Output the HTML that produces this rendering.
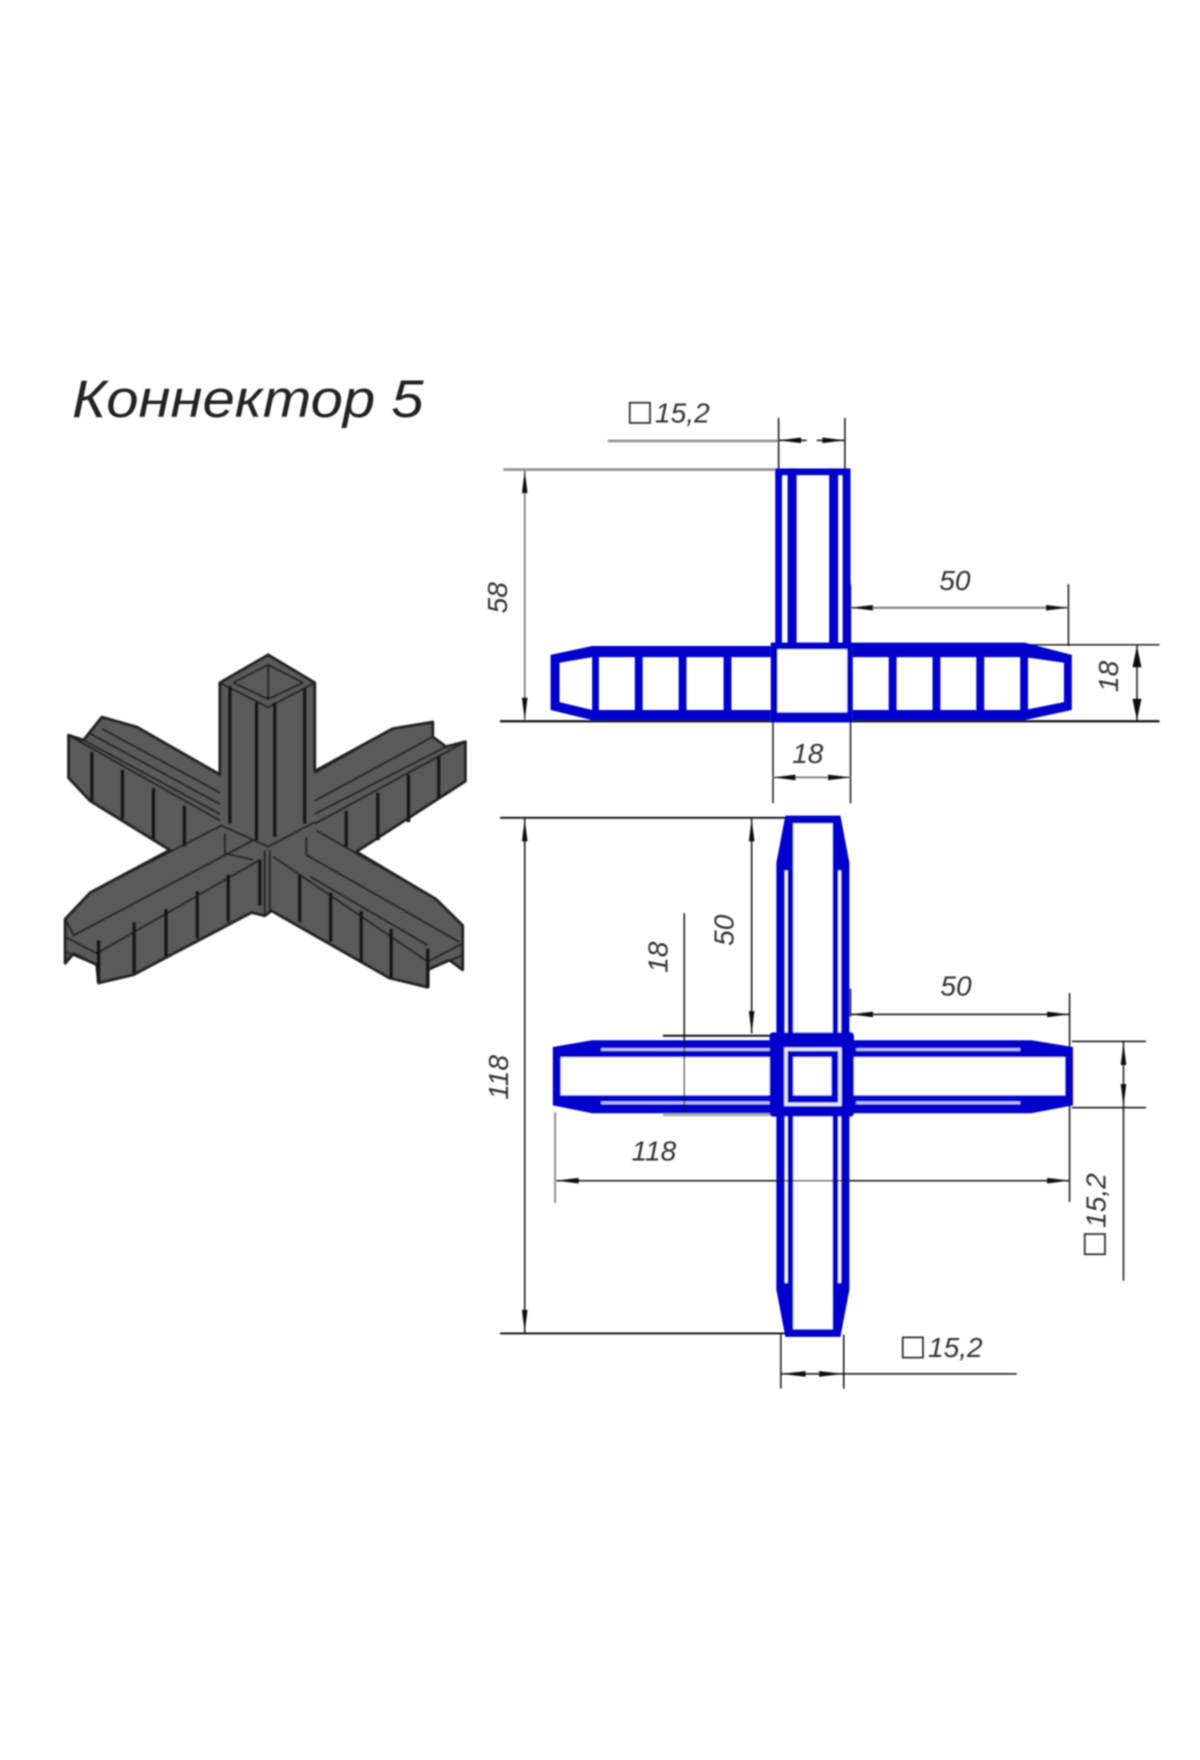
<!DOCTYPE html>
<html><head><meta charset="utf-8"><style>
html,body{margin:0;padding:0;background:#fff}
svg{display:block}
text{font-family:"Liberation Sans","DejaVu Sans",sans-serif;font-style:italic;fill:#333}
</style></head><body>
<svg width="1200" height="1760" viewBox="0 0 1068 1566.7" xmlns="http://www.w3.org/2000/svg">
<defs>
<filter id="b" x="-5%" y="-5%" width="110%" height="110%"><feGaussianBlur stdDeviation="0.7"/></filter>
</defs>
<rect width="1080" height="1584" fill="#fff"/>
<g filter="url(#b)">
<text x="64" y="371" font-size="47" textLength="313" lengthAdjust="spacingAndGlyphs" style="fill:#222">Коннектор 5</text>

<!-- isometric connector -->
<g transform="translate(35.800,552.300) scale(0.296,0.292)" stroke="#222" stroke-width="6" fill="#5a5a5a" stroke-linejoin="round">
<path stroke-width="9" d="M85 350L130 365L185 295L290 325L540 470V190L685 105L825 190V460L1060 330L1180 310V355L1220 385L1278 370V490L950 705L1190 850L1270 930V1065L1230 1035L1165 1065V1118L1050 1090L695 885L675 900L635 890L280 1080L175 1105L170 1050L100 1015L75 1045V910L150 830L390 700L150 550L85 480Z"/>
<g fill="none">
<path d="M85 350L540 610M130 365L540 590M150 345L540 560M185 330L540 525M290 325L540 470"/>
<path d="M1278 370L825 620M1220 385L825 590M1180 355L825 550M1060 330L825 465"/>
<path d="M75 910L100 960L640 670M150 830L545 625M75 965L170 1015L660 730M75 1010L170 1050"/>
<path d="M1270 985L1165 1040L700 720M1260 980L800 715M1190 850L830 640M1270 1020L1165 1065M1165 990L810 780"/>
<path d="M540 190L685 265L825 190M580 190L685 135L790 190L685 240ZM685 135V240"/>
<path d="M685 690L825 615M685 690L545 625M555 650V710L640 730M800 660V715"/>
<path d="M675 700V895M690 700V885"/>
</g>
<g stroke="#151515" stroke-width="11" fill="none">
<path d="M155 400V550M247 455V605M340 510V665M433 565V690"/>
<path d="M1198 415V540M1107 470V615M1015 525V670M920 580V690"/>
<path d="M175 975V1100M282 920V1075M378 880V1025M472 825V970M565 775V920M660 730V870"/>
<path d="M780 775V920M873 830V980M965 885V1040M1055 940V1090M1165 1000V1118"/>
<path d="M570 200V620M650 250V670M705 250V660M795 205V620"/>
</g>
</g>

<!-- dimension lines top view -->
<g fill="none" stroke="#111" stroke-width="1.3">
<path stroke="#999" stroke-width="2.500" d="M541 392.500H693M448 418H690"/>
<path d="M693 372V418M752 372V418M693 392H718M727 392H752"/>
<path stroke="#777" stroke-width="1.500" d="M467 418V642"/>
<path d="M445 642H1032" stroke-width="2"/>
<path d="M757 574H1032M1012 574V642"/>
<path stroke="#888" d="M757 541H951" stroke-width="2"/>
<path d="M757 520V575M951 520V575M688 642V715M757 642V715"/>
<path d="M688 692H757" stroke="#777" stroke-width="1.500"/>
</g>
<g fill="#111">
<path d="M467 419l-2.500 20h5zM467 641l-2.500-20h5zM1012 575l-4 19h8zM1012 641l-4-19h8z"/>
<path d="M757 541l20-2.500v5zM951 541l-20-2.500v5zM688 692l20-2.500v5zM757 692l-20-2.500v5zM693 392l20-2.500v5zM752 392l-20-2.500v5z"/>
</g>

<!-- top view blue -->
<g fill="#0000cc">
<rect x="690" y="417" width="66" height="6"/>
<rect x="690" y="417" width="6" height="158"/>
<rect x="701" y="417" width="8" height="158"/>
<rect x="738" y="417" width="8" height="158"/>
<rect x="750" y="417" width="7" height="158"/>
<rect x="686" y="572" width="73" height="71"/>
<path d="M527 575H686V585H527L498 590V625L527 632H686V641H527L490 632V583Z"/>
<path d="M759 572H912L954 583V632L912 641H759V632H912L947 625V590L912 585H759Z"/>
<rect x="527" y="582" width="6" height="54"/>
<rect x="565" y="582" width="7" height="54"/>
<rect x="604" y="582" width="7" height="54"/>
<rect x="644" y="582" width="7" height="54"/>
<rect x="791" y="582" width="7" height="54"/>
<rect x="830" y="582" width="7" height="54"/>
<rect x="869" y="582" width="7" height="54"/>
<rect x="908" y="582" width="7" height="54"/>
</g>
<rect x="692" y="578" width="62" height="56" fill="#fff"/>

<!-- plan view dims -->
<g fill="none" stroke="#111" stroke-width="1.3">
<path d="M445 728H700M445 1187H700" stroke-width="1.600"/>
<path d="M467 728V1187M669 728V920M609 813V993M1000 927V1140"/>
<path d="M590 922H690" stroke-width="1.800"/>
<path d="M590 992H690" stroke="#aaa" stroke-width="3"/>
<path d="M757 880V905M757 903H952M952 884V1070M954 927H1020M954 986H1020"/>
<path d="M494 990V1071" stroke="#999" stroke-width="2"/>
<path d="M495 1051H952M695 1188V1236M751 1188V1236M695 1223H905"/>
</g>
<g fill="#111">
<path d="M467 729l-2.500 20h5zM467 1186l-2.500-20h5zM669 729l-2.500 20h5zM669 920l-2.500-20h5zM1000 928l-2.500 20h5zM1000 985l-2.500-20h5z"/>
<path d="M757 903l20-2.500v5zM952 903l-20-2.500v5zM495 1051l20-2.500v5zM952 1051l-20-2.500v5zM695 1223l22-2.500v5zM751 1223l-22-2.500v5z"/>
</g>

<!-- plan view blue -->
<g fill="#0000cc">
<path d="M699 726H748L756 768V1148L748 1190H699L691 1148V768Z"/>
<path d="M706 733H741V1183H706Z" fill="#fff"/>
<path d="M698.500 775H701V1142H698.500ZM746 775H748.500V1142H746Z" fill="#fff"/>
<path d="M527 926H918L955 932V984L918 991H527L492 984V932Z"/>
<path d="M499 941H948V975H499Z" fill="#fff"/>
<path d="M535 933H686V935.500H535ZM762 933H908V935.500H762ZM535 980.500H686V983H535ZM762 980.500H908V983H762Z" fill="#c0c0ff"/>
<rect x="685" y="919" width="75" height="75" rx="3"/>
<rect x="699.500" y="934" width="48" height="49" fill="none" stroke="#e8e8ff" stroke-width="3"/>
<rect x="706" y="941" width="34" height="34" fill="#fff"/>
</g>
<path d="M609 927V990M495 1051H952" stroke="#111" stroke-width="1.300" fill="none"/>

<!-- labels -->
<g font-size="25" style="font-size:25px">
<rect x="560.500" y="358.500" width="18" height="18" fill="none" stroke="#333" stroke-width="1.600"/>
<text x="583" y="376">15,2</text>
<text x="836" y="525">50</text>
<text x="705" y="679">18</text>
<text x="837" y="886">50</text>
<text x="562" y="1033">118</text>
<rect x="803.500" y="1190.500" width="18" height="18" fill="none" stroke="#333" stroke-width="1.600"/>
<text x="826" y="1208">15,2</text>
<text transform="translate(451,546) rotate(-90)">58</text>
<text transform="translate(995,616) rotate(-90)">18</text>
<text transform="translate(653,842) rotate(-90)">50</text>
<text transform="translate(594,866) rotate(-90)">18</text>
<text transform="translate(452,979) rotate(-90)">118</text>
<text transform="translate(984,1093) rotate(-90)">15,2</text>
<rect x="965.500" y="1098.500" width="18" height="18" fill="none" stroke="#333" stroke-width="1.600"/>
</g>
</g>
</svg>
</body></html>
